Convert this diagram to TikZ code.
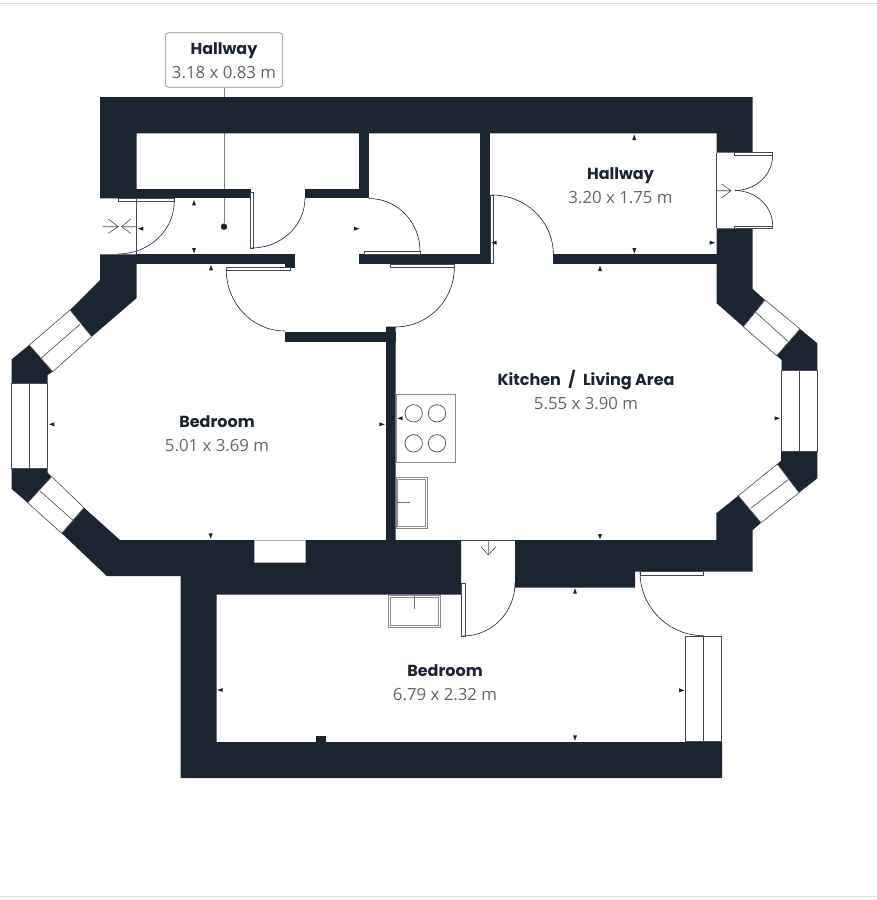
\documentclass[tikz,border=0pt]{standalone}
\usepackage{fontspec}
\newfontfamily\titlefont{Poppins}
\newfontfamily\sizefont{Open Sans}
\definecolor{wallcol}{RGB}{27, 36, 49}
\definecolor{sizecol}{RGB}{98, 103, 112}
\definecolor{linecol}{RGB}{70, 74, 82}
\tikzset{
  wall/.style={fill=wallcol, draw=none},
  thinline/.style={draw=linecol, line width=0.6pt},
  leaf/.style={draw=linecol, line width=0.6pt, fill=white},
  swing/.style={draw=wallcol, line width=0.6pt},
  glass/.style={draw=linecol, line width=0.6pt, fill=white},
  roomname/.style={font=\titlefont\bfseries\fontsize{16}{18}\selectfont, text=wallcol, inner sep=0pt, anchor=base},
  roomsize/.style={font=\sizefont\fontsize{16.8}{18}\selectfont, text=sizecol, inner sep=0pt, anchor=base},
}
\begin{document}
\begin{tikzpicture}[x=1pt, y=-1pt]
  \useasboundingbox (0,0) rectangle (877,900);
  \fill[white] (0,0) rectangle (877,900);
  \draw[black!13, line width=0.8pt] (0,3) -- (877,3);
  \draw[black!13, line width=0.8pt] (0,896) -- (877,896);

  % callout and its pointer
  \node[draw=black!45, rounded corners=2.5pt, fill=white, line width=0.7pt, minimum width=116.5pt, minimum height=54.5pt] (hallcallout) at (224,60) {};
  \node[circle, fill=wallcol, inner sep=0pt, minimum size=6.5pt] (halldot) at (224,226.7) {};
  \draw[black!50, line width=0.7pt] (hallcallout) -- (halldot);

  % walls
  \fill[wall] (100,97) -- (752.7,97) -- (752.7,152.7) -- (716.7,152.7) -- (716.7,133.3) -- (136.7,133.3) -- (136.7,198.3) -- (100,198.3) -- cycle;
  \fill[wall] (136,189) rectangle (250.7,198.3);
  \fill[wall] (305,189) rectangle (369,198.3);
  \fill[wall] (359.3,133) rectangle (369,198.3);
  \fill[wall] (480,133) rectangle (490,264.3);
  \fill[wall] (136,254.3) rectangle (294.5,264.3);
  \fill[wall] (285,264) rectangle (294.5,267.7);
  \fill[wall] (359.3,254.3) rectangle (490,264.3);
  \fill[wall] (553.3,254.3) rectangle (716.7,264.3);
  \fill[wall] (285,331.7) rectangle (395.7,341.7);
  \fill[wall] (316,736) rectangle (326,742);
  % left side
  \fill[wall] (100,254.3) -- (136.7,254.3) -- (136.7,298) -- (91.7,336.7) -- (70,310) -- (100,280) -- cycle;
  \fill[wall] (29.3,345) -- (52.7,371.7) -- (47.7,375) -- (47.7,383.3) -- (11.7,383.3) -- (11.7,359.3) -- cycle;
  \fill[wall] (11.7,468.3) -- (47.7,468.3) -- (47.7,472.7) -- (51.7,476.7) -- (27.7,502.7) -- (11.7,489) -- cycle;
  % bottom left and lower bedroom
  \fill[wall] (84,507.7) -- (120,540) -- (386,540) -- (386,326.7) -- (395.7,326.7) -- (395.7,540) -- (461,540) -- (461,594.5) -- (216.7,594.5) -- (216.7,742) -- (722,742) -- (722,778) -- (180.7,778) -- (180.7,576) -- (106.7,576) -- (61.7,533.3) -- cycle;
  \draw[fill=white, draw=black!30, line width=0.4pt] (254,540) rectangle (305.3,562.3);
  % right side
  \fill[wall] (515,540) -- (716.3,540) -- (716.3,513.3) -- (738.3,495.7) -- (761,522.7) -- (752.7,530) -- (752.7,571.7) -- (635,571.7) -- (635,587.5) -- (515,587.5) -- cycle;
  \fill[wall] (777.3,464) -- (781,460.7) -- (781,451) -- (817.3,451) -- (817.3,478.3) -- (799,492.7) -- cycle;
  \fill[wall] (817.3,343.3) -- (817.3,371) -- (781.7,371) -- (781.7,360) -- (776.7,355.7) -- (800,329) -- cycle;
  \fill[wall] (716.7,228.3) -- (752.7,228.3) -- (752.7,289) -- (765,300) -- (743.3,326.7) -- (716.7,303.3) -- cycle;

  % windows
  \draw[glass] (70,310) -- (91.7,336.7) -- (52.7,371.7) -- (29.3,345) -- cycle;
  \draw[glass] (80,324.3) -- (41.3,358);
  \draw[glass] (11.7,383.3) rectangle (47.7,468.3);
  \draw[glass] (29.7,383.3) -- (29.7,468.3);
  \draw[glass] (51.7,476.7) -- (84,507.7) -- (61.7,533.3) -- (27.7,502.7) -- cycle;
  \draw[glass] (40,491) -- (72.7,520);
  \draw[glass] (738.3,495.7) -- (761,522.7) -- (799,492.7) -- (777.3,464) -- cycle;
  \draw[glass] (750.7,508.3) -- (788.7,479.3);
  \draw[glass] (781,370.7) rectangle (817.3,451);
  \draw[glass] (799.3,370.7) -- (799.3,451);
  \draw[glass] (765,300) -- (800,329) -- (776.7,355.7) -- (743.3,326.7) -- cycle;
  \draw[glass] (755,311.7) -- (788.3,341.7);
  \draw[glass] (685.7,636) rectangle (721.7,741.7);
  \draw[glass] (703.7,636) -- (703.7,741.7);

  % door leaves
  \draw[leaf] (118.3,198.3) rectangle (174.3,201.7);
  \draw[leaf] (250.7,192.7) rectangle (253.3,248);
  \draw[leaf] (364.3,251) rectangle (420,254.3);
  \draw[leaf] (390.3,264.3) rectangle (454.3,267.7);
  \draw[leaf] (226.3,267.7) rectangle (290,270.7);
  \draw[leaf] (490,195) rectangle (493.5,263);
  \draw[leaf] (734.3,152.7) rectangle (772.7,155.3);
  \draw[leaf] (734.3,226) rectangle (772.7,228.3);
  \draw[leaf] (461.7,583.3) rectangle (465,636);
  \draw[leaf] (640,571.7) rectangle (703.7,575.3);

  % door swings
  \draw[swing] (174.3,201) to[out=-90, in=0] (118,254);
  \draw[swing] (305,198) to[out=-90, in=0] (251.5,248);
  \draw[swing] (369,198.5) to[out=0, in=90] (420,251);
  \draw[swing] (454.3,267.7) to[out=-90, in=0] (395,327);
  \draw[swing] (226.3,270) to[out=-90, in=180] (285,331);
  \draw[swing] (492,195) to[out=0, in=90] (553.3,254.3);
  \draw[swing] (772.7,155) to[out=-90, in=0] (735,190.5);
  \draw[swing] (772.7,226) to[out=90, in=0] (735,190.5);
  \draw[swing] (515,583) to[out=-90, in=0] (463,636);
  \draw[swing] (640,572) to[out=-90, in=180] (703.7,635.7);

  % openings and entrance marks
  \draw[thinline] (136.7,198) -- (136.7,254.3);
  \draw[thinline] (716.7,152.7) -- (716.7,228.3);
  \draw[thinline] (461,540.3) -- (515,540.3);
  \draw[thinline] (102.7,226.7) -- (118.3,226.7) (108.3,219) -- (118.3,226.7) -- (108.3,233.3);
  \draw[thinline] (136,226.7) -- (121.7,226.7) (130.7,219) -- (121.7,226.7) -- (130.7,233.3);
  \draw[thinline] (716.7,190.7) -- (731,190.7) (721.7,184) -- (731,190.7) -- (721.7,198);
  \draw[thinline] (488.3,541) -- (488.3,555) (481,546.7) -- (488.3,555) -- (496,546.7);

  % hob and sinks
  \draw[draw=black!45, line width=0.7pt] (396,394.3) rectangle (455,462.3);
  \foreach \cx/\cy in {413.7/413.3, 437/413.3, 413.7/443.3, 437/443.3}
    \draw[draw=linecol, line width=0.7pt] (\cx,\cy) circle[radius=8.7];
  \draw[draw=black!45, line width=0.9pt] (396,477.3) rectangle (427.3,528.3);
  \draw[draw=black!45, line width=0.9pt] (397.7,479.3) rectangle (425,526);
  \draw[draw=black!55, line width=0.6pt] (396,502.3) -- (410,502.3);
  \draw[draw=black!45, line width=0.9pt] (388.3,595.7) rectangle (440.7,627);
  \draw[draw=black!45, line width=0.9pt] (390.7,597.3) rectangle (438.3,625);
  \draw[draw=black!55, line width=0.6pt] (414.3,595) -- (414.3,609.3);

  % wall ticks
  \foreach \tx/\ty/\ta in {194/202.7/90, 194/250.7/270, 140.7/228.7/180, 356.7/228.7/0, 211/267.7/90,
      634.3/137.3/90, 634.3/250.7/270, 600/268.3/90, 494/242.7/180, 712.3/242.7/0,
      51.7/424.3/180, 210.7/536/270, 382/424.3/0, 400/418.3/180, 777.3/418.3/0, 600/536.7/270,
      575/591/90, 220/690/180, 681.7/690.3/0, 575/738/270}
    \fill[wallcol, shift={(\tx,\ty)}, rotate=\ta] (-2.7,-2) -- (-2.7,2) -- (2.7,0) -- cycle;

  % room labels
  \node[roomname] (hallname) at (224,54.3) {Hallway};
  \node[roomsize] (hallsize) at (224,78.7) {3.18 x 0.83 m};
  \node[roomname] (entryname) at (620.5,179.3) {Hallway};
  \node[roomsize] (entrysize) at (620.5,203.5) {3.20 x 1.75 m};
  \node[roomname] (kitchenname) at (586,385.7) {Kitchen\hspace{4pt} / \hspace{4pt}Living Area};
  \node[roomsize] (kitchensize) at (586,409) {5.55 x 3.90 m};
  \node[roomname] (bedonename) at (217,427.5) {Bedroom};
  \node[roomsize] (bedonesize) at (217,451.5) {5.01 x 3.69 m};
  \node[roomname] (bedtwoname) at (445,676.5) {Bedroom};
  \node[roomsize] (bedtwosize) at (445,700.5) {6.79 x 2.32 m};
\end{tikzpicture}
\end{document}
